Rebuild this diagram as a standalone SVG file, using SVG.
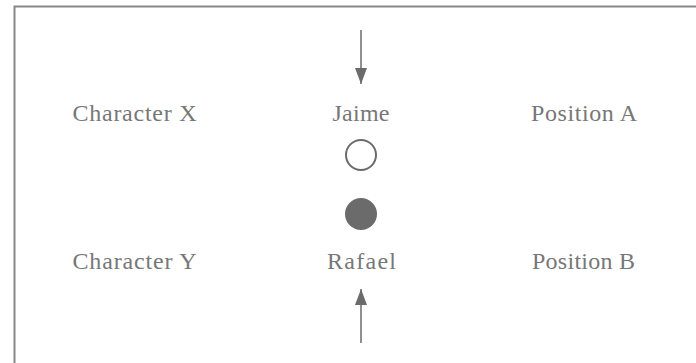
<svg xmlns="http://www.w3.org/2000/svg" width="696" height="363" viewBox="0 0 696 363">
<style>
.lbl{font-family:"Liberation Serif","DejaVu Serif",serif;font-size:24px;fill:#777;text-anchor:middle}
.ln{stroke:#6b6b6b;stroke-width:1.5;fill:none}
</style>
<defs>
<marker id="ah2" viewBox="0 0 16 12" refX="16" refY="6" markerWidth="16" markerHeight="12" markerUnits="userSpaceOnUse" orient="auto">
<path d="M0,0 L16,6 L0,12 z" fill="#6b6b6b"/>
</marker>
</defs>
<rect x="14.5" y="6.5" width="690" height="370" fill="#fff" stroke="#888" stroke-width="2"/>
<g id="connectors">
<line class="ln" x1="361" y1="30" x2="361" y2="84" marker-end="url(#ah2)"/>
<line class="ln" x1="361" y1="343" x2="361" y2="289" marker-end="url(#ah2)"/>
</g>
<g id="character-x"><text class="lbl" x="134.5" y="121" textLength="124" lengthAdjust="spacing">Character X</text></g>
<g id="jaime"><text class="lbl" x="361" y="121" textLength="57" lengthAdjust="spacing">Jaime</text></g>
<g id="position-a"><text class="lbl" x="584" y="121" textLength="106" lengthAdjust="spacing">Position A</text></g>
<g id="open-circle"><circle cx="361" cy="155" r="15" fill="#fff" stroke="#6b6b6b" stroke-width="2"/></g>
<g id="filled-circle"><circle cx="361" cy="214" r="16" fill="#6b6b6b"/></g>
<g id="character-y"><text class="lbl" x="134.5" y="269" textLength="124" lengthAdjust="spacing">Character Y</text></g>
<g id="rafael"><text class="lbl" x="361.5" y="269" textLength="69" lengthAdjust="spacing">Rafael</text></g>
<g id="position-b"><text class="lbl" x="583.5" y="269" textLength="103" lengthAdjust="spacing">Position B</text></g>
</svg>
